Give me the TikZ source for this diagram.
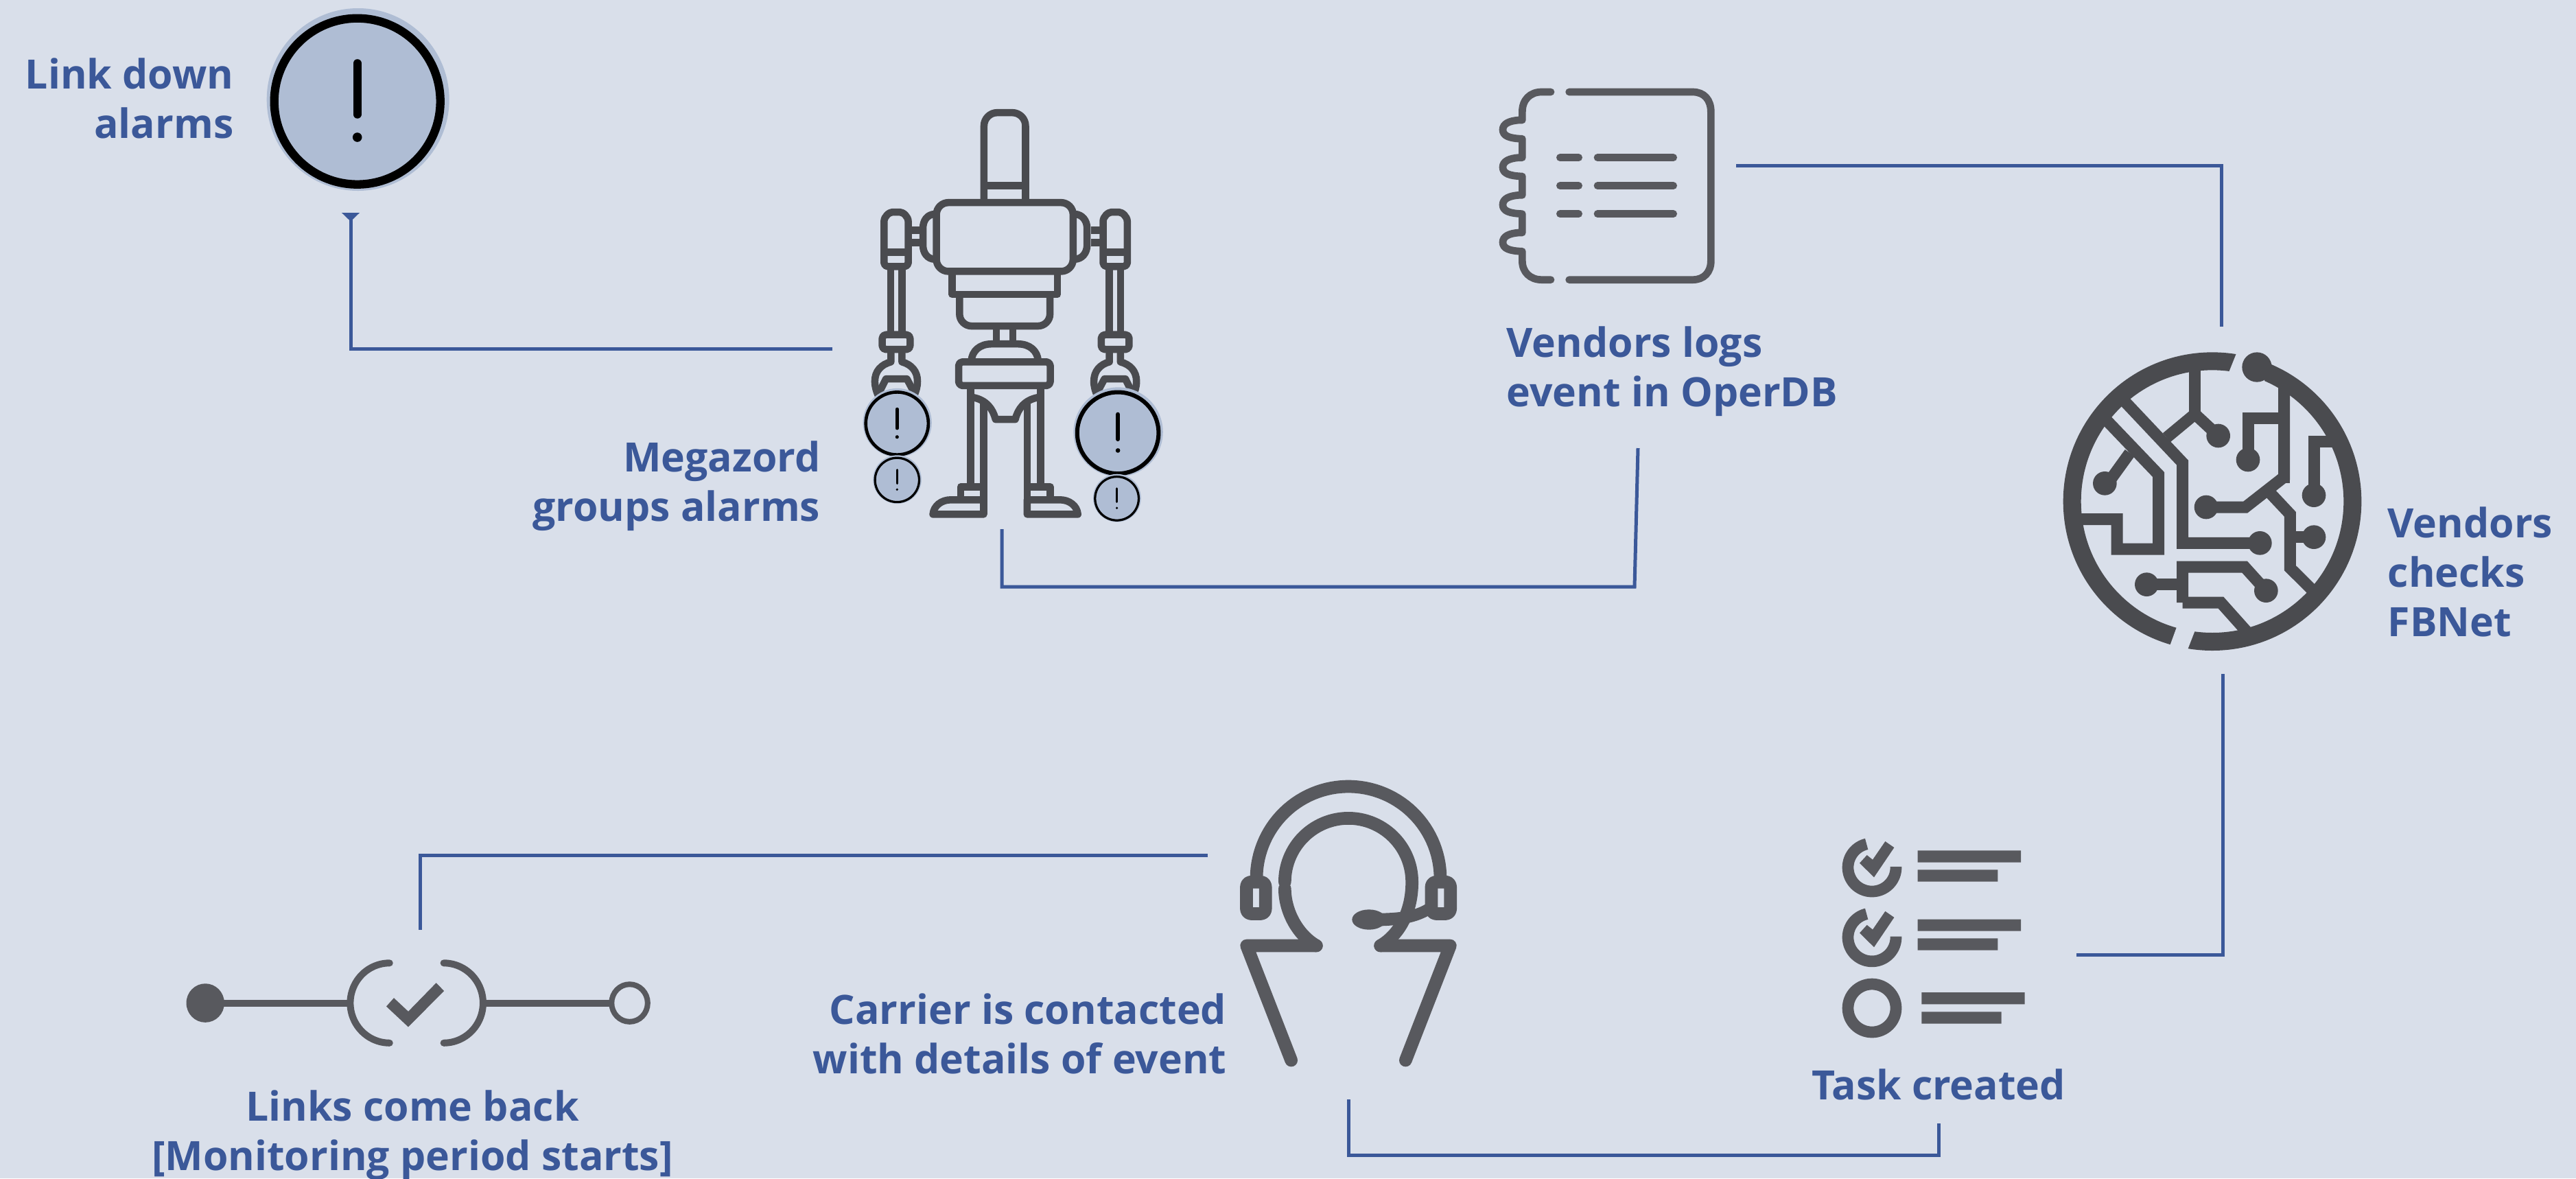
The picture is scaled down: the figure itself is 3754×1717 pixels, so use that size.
\documentclass[tikz,border=0pt]{standalone}
\usepackage{fontspec}
\setmainfont{Open Sans}
\usetikzlibrary{arrows.meta}
\definecolor{bgc}{HTML}{D9DFEA}
\definecolor{txtc}{HTML}{3B5899}
\definecolor{robc}{HTML}{4A4B4F}
\definecolor{icoc}{HTML}{58595E}
\definecolor{alfill}{HTML}{AFBDD4}
\tikzset{
  px/.style={line width=#1*0.2845pt},
  lbl/.style={text=txtc,font=\fontsize{16.75}{20.5}\selectfont\bfseries,inner sep=0pt},
  conn/.style={draw=txtc,px=5,line cap=butt,line join=miter},
  rob/.style={draw=robc,px=10.5,line join=round,line cap=butt},
  ico/.style={draw=icoc,line join=round,line cap=round},
  trace/.style={draw=robc,px=17,line join=miter,line cap=butt},
}
\newcommand{\alarmicon}[3]{%
  \begin{scope}[shift={(#1,#2)},scale=#3]
    \fill[alfill] (1,-2.7) circle[radius=133];
    \draw[black,px=12.3*#3] (0,0) circle[radius=121];
    \draw[black,px=12*#3,line cap=round] (0,-55.5) -- (0,19);
    \fill[black] (0,52.3) circle[radius=6.8];
  \end{scope}}
\newcommand{\robotarm}{%
  \draw[rob] (466,488) -- (500,488) (466,530) -- (500,530);
  \draw[rob,rounded corners=1.5pt] (361,613) -- (361,470) .. controls (361,440) and (381,425) .. (407,425) .. controls (433,425) and (453,440) .. (453,470) -- (453,613) -- cycle;
  \draw[rob] (361,564) -- (453,564);
  \draw[rob] (386,625) -- (386,840) (429,625) -- (429,840);
  \draw[rob,rounded corners=1.5pt] (354,849) rectangle (460,900);
  \draw[rob] (387,910) -- (387,943) .. controls (350,952) and (326,975) .. (326,1010) .. controls (326,1030) and (332,1045) .. (340,1062);
  \draw[rob] (429,910) -- (429,943) .. controls (465,952) and (488,975) .. (488,1010) .. controls (488,1030) and (482,1045) .. (476,1058);
  \draw[rob] (342,1050) -- (368,1002) -- (448,1002) -- (476,1050);
}
\newcommand{\robotfoot}{%
  \draw[rob] (652,1420) -- (652,1375) -- (740,1375);
  \draw[rob] (547,1470) .. controls (550,1440) and (580,1420) .. (615,1420) -- (740,1420) -- (740,1470) -- cycle;
}
\newcommand{\taskcheck}{%
  \draw[icoc,px=16.7,line cap=butt] plot[domain=-2:257,samples=60,variable=\t] ({234+105*cos(\t)},{222+105*sin(\t)});
  \fill[icoc] (180,203) -- (212,168) -- (237,188) -- (292,108) -- (331,135) -- (243,265) -- cycle;
}
\begin{document}
\begin{tikzpicture}[x=0.01cm,y=-0.01cm]
\useasboundingbox (0,0) rectangle (3754,1717);
\fill[bgc] (0,0) rectangle (3754,1717);

% ---------- labels
\node[lbl,anchor=east,align=right] (linkdown) at (341,143) {Link down\\alarms};
\node[lbl,anchor=east,align=right] (megazord) at (1196,708) {Megazord\\groups alarms};
\node[lbl,anchor=west,align=left] (operdb) at (2195,541) {Vendors logs\\event in OperDB};
\node[lbl,anchor=west,align=left] (fbnet) at (3479,833) {Vendors\\checks\\FBNet};
\node[lbl,anchor=center] (task) at (2825,1580) {Task created};
\node[lbl,anchor=east,align=right] (carrier) at (1788,1506) {Carrier is contacted\\with details of event};
\node[lbl,anchor=center,align=center] (links) at (601,1654) {Links come back\\{[}Monitoring period starts{]}};

% ---------- connectors
\coordinate (a1) at (1213,508); \coordinate (a2) at (511,310);
\draw[conn,-{Triangle[reversed,length=3.6pt,width=7.2pt]}] (a1) -| (a2);
\coordinate (b1) at (1460,771); \coordinate (b2) at (1460,855); \coordinate (b3) at (2382,855); \coordinate (b4) at (2387,653);
\draw[conn] (b1) -- (b2) -- (b3) -- (b4);
\coordinate (c1) at (2530,241.7); \coordinate (c2) at (3237,476);
\draw[conn] (c1) -| (c2);
\coordinate (d1) at (3239,982); \coordinate (d2) at (3026,1391);
\draw[conn] (d1) |- (d2);
\coordinate (e1) at (2825,1637); \coordinate (e2) at (2825,1683); \coordinate (e3) at (1965,1683); \coordinate (e4) at (1965,1602);
\draw[conn] (e1) -- (e2) -- (e3) -- (e4);
\coordinate (f1) at (1760,1246.5); \coordinate (f2) at (612,1355);
\draw[conn] (f1) -| (f2);

% ---------- robot
\begin{scope}[shift={(1150,130)},x=0.003827cm,y=-0.004209cm]
  \draw[rob,rounded corners=5.5pt] (741,385) -- (741,81) -- (899,81) -- (899,385);
  \draw[rob] (741,334) -- (899,334);
  \draw[rob,rounded corners=5pt] (560,392) rectangle (1080,630);
  \draw[rob] (555,432) .. controls (525,432) and (509,455) .. (509,480) -- (509,540) .. controls (509,565) and (525,588) .. (555,588);
  \draw[rob] (1085,432) .. controls (1115,432) and (1133,455) .. (1133,480) -- (1133,540) .. controls (1133,565) and (1115,588) .. (1085,588);
  \robotarm
  \begin{scope}[shift={(1647,0)},xscale=-1]\robotarm\end{scope}
  \draw[rob] (620,636) -- (620,710) -- (1020,710) -- (1020,636);
  \draw[rob,rounded corners=5pt] (648,710) -- (648,819) -- (992,819) -- (992,710);
  \draw[rob] (788,825) -- (788,880) (851,825) -- (851,880);
  \draw[rob] (693,940) .. controls (695,905) and (725,881) .. (770,881) -- (870,881) .. controls (915,881) and (945,905) .. (947,940);
  \draw[rob,rounded corners=1.5pt] (645,943) rectangle (993,1025);
  \draw[rob] (690,1030) -- (690,1375) (956,1030) -- (956,1375);
  \draw[rob] (740,1085) -- (740,1470) (905,1085) -- (905,1470);
  \draw[rob] (700,1066) .. controls (750,1075) and (775,1105) .. (785,1142) -- (860,1142) .. controls (870,1105) and (895,1075) .. (946,1066);
  \robotfoot
  \begin{scope}[shift={(1645,0)},xscale=-1]\robotfoot\end{scope}
\end{scope}

% ---------- alarms
\alarmicon{520.7}{147.7}{1}
\alarmicon{1307.3}{617}{0.377}
\alarmicon{1307.3}{699.4}{0.266}
\alarmicon{1629.1}{630.8}{0.49}
\alarmicon{1627.6}{726.4}{0.263}

% ---------- notebook
\begin{scope}[shift={(2150,100)},scale=0.33333]
  \begin{scope}[ico,px=10.7]
  \draw (330,102) -- (290,102) .. controls (240,102) and (205,135) .. (205,190) -- (205,225) -- (190,225)
    .. controls (150,228) and (120,240) .. (120,267) .. controls (120,295) and (150,305) .. (205,307) -- (205,389) -- (190,389)
    .. controls (150,392) and (120,404) .. (120,431) .. controls (120,459) and (150,469) .. (205,471) -- (205,553) -- (190,553)
    .. controls (150,556) and (120,568) .. (120,595) .. controls (120,623) and (150,633) .. (205,635) -- (205,717) -- (190,717)
    .. controls (150,720) and (120,732) .. (120,759) .. controls (120,787) and (150,797) .. (205,799) -- (205,840)
    .. controls (205,890) and (240,923) .. (290,923) -- (330,923);
  \draw (410,102) -- (950,102) .. controls (1000,102) and (1030,135) .. (1030,190) -- (1030,840) .. controls (1030,890) and (1000,923) .. (950,923) -- (410,923);
  \foreach \yy in {389,512,635} {
    \draw (370,\yy) -- (452,\yy);
    \draw (534,\yy) -- (866,\yy);
  }
  \end{scope}
\end{scope}

% ---------- circuit
\begin{scope}[shift={(2950,480)},scale=0.33333]
  \draw[robc,px=26] (822,752) circle[radius=613];
  \fill[bgc] (935,85) -- (888,203) -- (1050,235) -- (1050,85) -- cycle;
  \fill[bgc] (673,1282) -- (632,1395) -- (708,1415) -- (752,1302) -- cycle;
  \fill[robc] (1017,165) circle[radius=65];
  \draw[trace] (1017,165) -- (1136,225);
  \draw[trace] (745,180) -- (745,378);
  \draw[trace] (745,371) -- (622,473);
  \draw[trace] (748,372) -- (848,465);
  \fill[robc] (848,465) circle[radius=52];
  \draw[trace] (425,300) -- (692,583) -- (692,934) -- (1030,934);
  \fill[robc] (1030,934) circle[radius=52];
  \draw[trace] (345,382) -- (587,635) -- (587,960) -- (405,960) -- (405,830) -- (215,830);
  \draw[trace] (461,540) -- (365,673);
  \fill[robc] (352,673) circle[radius=52];
  \draw[trace] (1136,230) -- (1136,645) -- (967,777) -- (795,777);
  \fill[robc] (1110,620) rectangle (1162,672);
  \fill[robc] (795,777) circle[radius=52];
  \draw[trace] (1136,387) -- (978,387) -- (978,570);
  \fill[robc] (978,570) circle[radius=52];
  \draw[trace] (1266,725) -- (1266,491) -- (1350,491);
  \fill[robc] (1266,725) circle[radius=52];
  \draw[trace] (1070,710) -- (1162,808) -- (1162,1043) -- (1275,1155);
  \draw[trace] (1162,908) -- (1266,908);
  \fill[robc] (1266,908) circle[radius=52];
  \draw[trace] (535,1115) -- (692,1115);
  \fill[robc] (535,1115) circle[radius=52];
  \draw[trace] (692,1194) -- (692,1038) -- (963,1038) -- (1057,1142);
  \fill[robc] (1057,1142) circle[radius=52];
  \draw[trace] (692,1194) -- (859,1194) -- (985,1335);
\end{scope}

% ---------- tasks
\begin{scope}[shift={(2650,1190)},scale=0.33333]
  \taskcheck
  \begin{scope}[shift={(0,305.5)}]\taskcheck\end{scope}
  \draw[icoc,px=16.7] (234,837) circle[radius=105];
  \fill[icoc] (434,148) rectangle (885,200) (434,232) rectangle (784,284);
  \fill[icoc] (434,449) rectangle (885,500) (434,532) rectangle (784,584);
  \fill[icoc] (451,768) rectangle (902,820) (451,853) rectangle (800,905);
\end{scope}

% ---------- headset
\begin{scope}[shift={(1750,1100)},scale=0.33333]
  \begin{scope}[ico,px=18.7]
  \draw[line cap=butt] plot[domain=180:360,samples=60,variable=\t] ({645+402*cos(\t)},{540+402*sin(\t)});
  \draw (505,834) .. controls (420,785) and (367,680) .. (367,585) plot[domain=180:360,samples=60,variable=\t] ({645+278*cos(\t)},{555+278*sin(\t)}) .. controls (924,680) and (870,785) .. (785,834);
  \draw (505,834) -- (200,834) -- (395,1335);
  \draw (785,834) -- (1090,834) -- (895,1335);
  \draw[rounded corners=2pt] (199.5,555.5) rectangle (282.5,694.5);
  \draw[rounded corners=2pt] (1008,555.5) rectangle (1091,694.5);
  \end{scope}
  \fill[icoc] (735,720) ellipse[x radius=74,y radius=44];
  \fill[icoc] (790,692) .. controls (880,690) and (950,680) .. (1000,640) -- (1000,700) .. controls (950,730) and (880,745) .. (790,748) -- cycle;
\end{scope}

% ---------- links icon
\begin{scope}[shift={(250,1370)},x=0.004783cm,y=-0.003333cm]
  \fill[icoc] (103,275) ellipse[x radius=58,y radius=85];
  \draw[icoc,px=10] (103,275) -- (535,275) (955,275) -- (1335,275);
  \draw[icoc,px=8] (1397,275) ellipse[x radius=55,y radius=82];
  \draw[ico,px=10] plot[domain=90:270,samples=50,variable=\t] ({665+120*cos(\t)},{275+175*sin(\t)});
  \draw[ico,px=10] plot[domain=-90:90,samples=50,variable=\t] ({830+120*cos(\t)},{275+175*sin(\t)});
  \fill[icoc] (655,290) -- (678,253) -- (722,312) -- (807,187) -- (831,222) -- (722,380) -- cycle;
\end{scope}
\end{tikzpicture}
\end{document}
